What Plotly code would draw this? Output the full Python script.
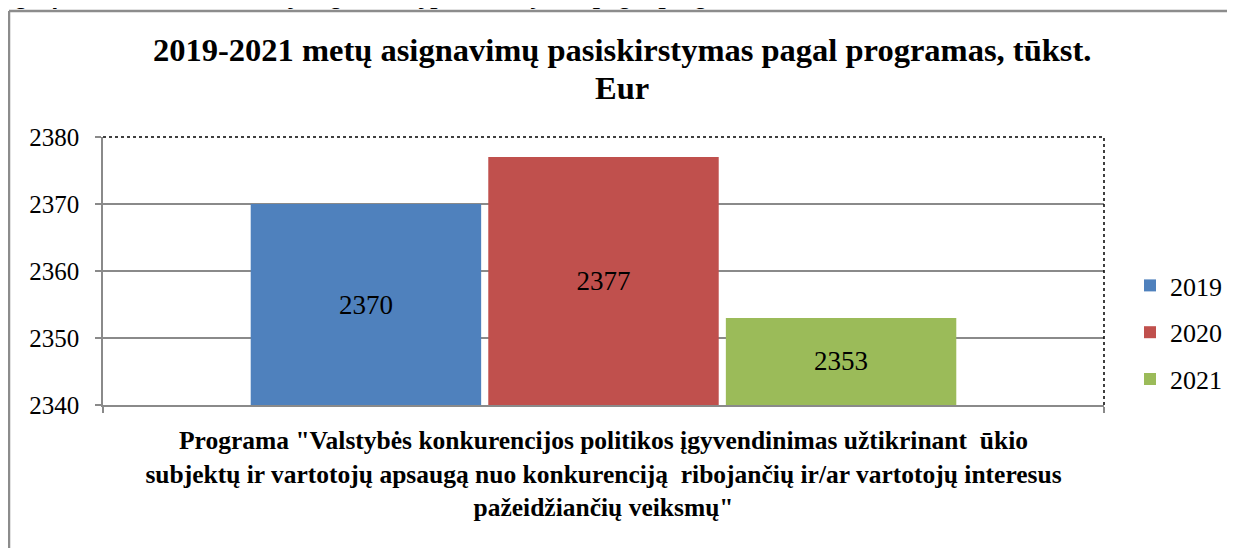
import plotly.graph_objects as go

categories = ['<b>Programa "Valstybės konkurencijos politikos įgyvendinimas užtikrinant  ūkio<br>subjektų ir vartotojų apsaugą nuo konkurenciją  ribojančių ir/ar vartotojų interesus<br>pažeidžiančių veiksmų"</b>']
years = ["2019", "2020", "2021"]
values = [[2370], [2377], [2353]]
colors = ["#4F81BD", "#C0504D", "#9BBB59"]
y_ticks = [2340, 2350, 2360, 2370, 2380]
y_min, y_max = 2340, 2380

SERIF = "Liberation Serif"

# page body has an 8px margin; work in window coordinates and convert
OFF = 8
W, H = 1235 - OFF, 548 - OFF
L, R, T, B = 103 - OFF, 1104 - OFF, 137 - OFF, 405 - OFF

def px(x):
    return (x - OFF - L) / (R - L)

def py(y):
    return (B - (y - OFF)) / (B - T)

fig = go.Figure()
for yr, v, c in zip(years, values, colors):
    fig.add_trace(go.Bar(
        x=categories, y=[val - y_min for val in v], base=y_min,
        name=yr, marker_color=c, marker_line_width=0,
        text=[str(val) for val in v], textposition="inside",
        insidetextanchor="middle", textangle=0,
        textfont=dict(family=SERIF, size=27, color="black"),
        legendgroup=yr, hovertext=[str(val) for val in v], hoverinfo="text+name",
    ))

fig.update_layout(
    width=W, height=H,
    margin=dict(l=L, r=W - R, t=T, b=H - B, autoexpand=False),
    paper_bgcolor="white", plot_bgcolor="white",
    barmode="group", bargap=0.288, bargroupgap=0.03,
    font=dict(family=SERIF, size=22, color="black"),
    uniformtext=dict(minsize=8, mode="show"),
    legend=dict(
        x=px(1130), y=py(262), xanchor="left", yanchor="top",
        font=dict(family=SERIF, size=26, color="black"),
        tracegroupgap=10, traceorder="grouped",
        itemwidth=30, bgcolor="rgba(0,0,0,0)",
    ),
    showlegend=True,
)

fig.update_yaxes(
    range=[y_min, y_max], tickvals=y_ticks, ticktext=[str(t) for t in y_ticks],
    showgrid=True, gridcolor="#8a8a8a", gridwidth=1.5,
    showline=True, linecolor="#8a8a8a", linewidth=1.5,
    ticks="outside", ticklen=6, tickcolor="#8a8a8a", tickwidth=1.5,
    tickfont=dict(family=SERIF, size=25, color="black"),
    ticklabelstandoff=11, zeroline=False, automargin=False,
)
fig.update_xaxes(
    showline=True, linecolor="#8a8a8a", linewidth=1.5,
    ticks="outside", tickson="boundaries", ticklen=6, tickcolor="#8a8a8a", tickwidth=1.5,
    tickfont=dict(family=SERIF, size=25.5, color="black"),
    ticklabelstandoff=12, showgrid=False, automargin=False,
)

# dotted plot-area border on top and right
fig.add_shape(type="line", xref="x domain", yref="y domain", x0=0, x1=1, y0=1, y1=1,
              line=dict(color="black", width=1.5, dash="dot"))
fig.add_shape(type="line", xref="x domain", yref="y domain", x0=1, x1=1, y0=0, y1=1,
              line=dict(color="black", width=1.5, dash="dot"))

# outer chart frame
fig.add_shape(type="line", xref="paper", yref="paper", x0=px(9), x1=px(1245), y0=py(11), y1=py(11),
              line=dict(color="#8c8c8c", width=2.5))
fig.add_shape(type="line", xref="paper", yref="paper", x0=px(9), x1=px(9), y0=py(11), y1=py(560),
              line=dict(color="#8c8c8c", width=2.5))

# chart title (two lines)
fig.add_annotation(
    text="<b>2019-2021 metų asignavimų pasiskirstymas pagal programas, tūkst.</b>",
    xref="paper", yref="paper", x=px(622), y=py(50), xanchor="center", yanchor="middle",
    showarrow=False, font=dict(family=SERIF, size=32.5, color="black"),
)
fig.add_annotation(
    text="<b>Eur</b>",
    xref="paper", yref="paper", x=px(622), y=py(88), xanchor="center", yanchor="middle",
    showarrow=False, font=dict(family=SERIF, size=32.5, color="black"),
)

# document caption above the chart (clipped at the top edge, as in the source)
fig.add_annotation(
    text="<b><i>grafikas. 2019–2021 metų asignavimų pasiskirstymas pagal programas</i></b>",
    xref="paper", yref="paper", x=px(778), y=py(12), xanchor="right", yanchor="bottom",
    showarrow=False, font=dict(family=SERIF, size=26, color="black"),
)

fig.write_html("out.html")
